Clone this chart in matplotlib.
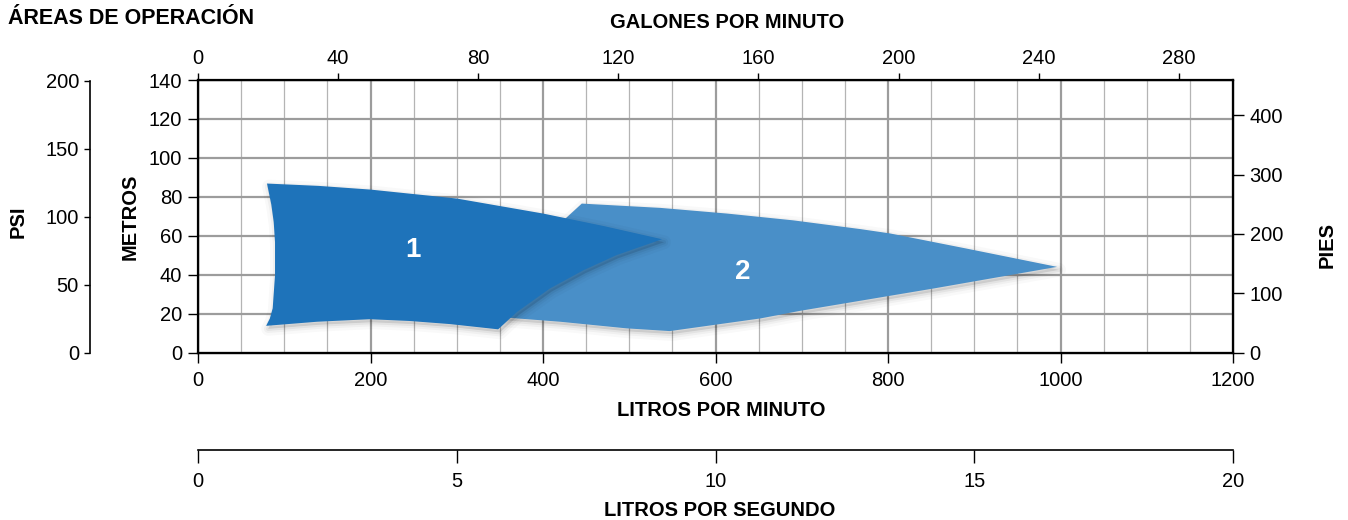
import matplotlib
matplotlib.use("Agg")
import matplotlib.pyplot as plt
import matplotlib.transforms as mtransforms
from matplotlib.patches import Polygon

plt.rcParams["font.family"] = ["Liberation Sans", "DejaVu Sans"]

# operating areas, outline in (litres per minute, metres)
area1_lpm = [80, 140, 200, 300, 400, 470, 538, 485, 447, 408, 370, 348, 292, 245, 199, 138, 79, 83.3, 86.6, 89.3, 89.3, 87.8, 85.0]
area1_m = [86.8, 85.6, 83.7, 79.1, 71.4, 65.0, 58.2, 50.0, 42.3, 32.9, 20.9, 11.9, 14.6, 16.2, 17.1, 15.8, 13.7, 17.5, 22.7, 39.7, 56.8, 67.0, 76.0]
area2_lpm = [445, 536, 613, 690, 768, 802, 891, 996, 853, 698, 652, 547, 497, 420, 370, 330, 400, 426]
area2_m = [76.5, 74.3, 71.4, 67.9, 63.4, 61.2, 53.4, 44.0, 32.9, 21.4, 17.5, 11.0, 12.4, 15.8, 17.5, 19.0, 65.0, 68.8]
area_names = ["1", "2"]
area_label_pos = [(249, 52.6), (632, 41.3)]
area_colors = ["#1e73ba", "#498fc8"]

lpm_ticks = [0, 200, 400, 600, 800, 1000, 1200]
metros_ticks = [0, 20, 40, 60, 80, 100, 120, 140]
gpm_ticks = [0, 40, 80, 120, 160, 200, 240, 280]
pies_ticks = [0, 100, 200, 300, 400]
psi_ticks = [0, 50, 100, 150, 200]
lps_ticks = [0, 5, 10, 15, 20]

W, H = 1348, 520
fig = plt.figure(figsize=(W / 100, H / 100), dpi=100)
x0, x1, ytop, ybot = 198, 1233, 80, 352.5
ax = fig.add_axes([x0 / W, 1 - ybot / H, (x1 - x0) / W, (ybot - ytop) / H])

TICK_FS = 14.5
ax.set_xlim(0, 1200)
ax.set_ylim(0, 140)
ax.set_xticks(lpm_ticks)
ax.set_xticks(range(0, 1201, 50), minor=True)
ax.set_yticks(metros_ticks)
ax.tick_params(which="major", direction="out", length=7.5, width=1.0, labelsize=TICK_FS)
ax.tick_params(axis="x", which="major", pad=6)
ax.tick_params(axis="y", which="major", pad=4)
ax.tick_params(which="minor", length=0)
ax.grid(axis="x", which="minor", color="#b4b4b4", lw=0.9)
ax.grid(axis="x", which="major", color="#9c9c9c", lw=1.6)
ax.grid(axis="y", which="major", color="#9c9c9c", lw=1.6)
ax.set_axisbelow(True)
for sp in ax.spines.values():
    sp.set_linewidth(1.6)
    sp.set_color("black")


def add_area(xs, ys, color):
    pts = list(zip(xs, ys))
    shadow_tr = mtransforms.offset_copy(ax.transData, fig=fig, x=2, y=-3, units="dots")
    ax.add_patch(Polygon(pts, closed=True, transform=shadow_tr, facecolor=(0, 0, 0, 0.10), edgecolor="none"))
    for w, a in [(10, 0.025), (6, 0.035), (3, 0.05)]:
        ax.add_patch(Polygon(pts, closed=True, transform=shadow_tr, facecolor="none",
                             edgecolor=(0, 0, 0, a), lw=w, joinstyle="round"))
    ax.add_patch(Polygon(pts, closed=True, facecolor=color, edgecolor="none"))


add_area(area2_lpm, area2_m, area_colors[1])
add_area(area1_lpm, area1_m, area_colors[0])
for name, (lx, ly) in zip(area_names, area_label_pos):
    ax.text(lx, ly, name, color="white", fontsize=20, fontweight="bold", ha="center", va="center")

# top axis: gallons per minute
axt = ax.twiny()
axt.set_xlim(0, 295.5)
axt.set_xticks(gpm_ticks)
axt.tick_params(axis="x", direction="out", length=5, width=1.0, labelsize=TICK_FS, pad=4)

# right axis: feet
axr = ax.twinx()
axr.set_ylim(0, 140 / 0.3048)
axr.set_yticks(pies_ticks)
axr.tick_params(axis="y", direction="out", length=8, width=1.0, labelsize=TICK_FS, pad=4)

# left PSI axis
axp = fig.add_axes([90 / W, 1 - ybot / H, 0.0001, (ybot - ytop) / H])
axp.set_ylim(0, 200.5)
axp.set_yticks(psi_ticks)
axp.set_xticks([])
for s in ["top", "right", "bottom"]:
    axp.spines[s].set_visible(False)
axp.spines["left"].set_bounds(0, 200)
axp.spines["left"].set_linewidth(1.2)
axp.tick_params(axis="y", direction="out", length=4, width=1.0, labelsize=TICK_FS, pad=4)
axp.patch.set_visible(False)

# bottom axis: litres per second
axs = fig.add_axes([x0 / W, 1 - 450 / H, (x1 - x0) / W, 0.0001])
axs.set_xlim(0, 20)
axs.set_xticks(lps_ticks)
axs.set_yticks([])
for s in ["top", "right", "left"]:
    axs.spines[s].set_visible(False)
axs.spines["bottom"].set_linewidth(1.2)
axs.tick_params(axis="x", direction="out", length=9, width=1.0, labelsize=TICK_FS, pad=7)
axs.patch.set_visible(False)

lab = dict(fontsize=14.5, fontweight="bold", ha="center", va="center")
fig.text(8 / W, 1 - 18 / H, "ÁREAS DE OPERACIÓN", fontsize=15.5, fontweight="bold", ha="left", va="center")
fig.text(727 / W, 1 - 22 / H, "GALONES POR MINUTO", **lab)
fig.text(721 / W, 1 - 410 / H, "LITROS POR MINUTO", **lab)
fig.text(720 / W, 1 - 510 / H, "LITROS POR SEGUNDO", **lab)
fig.text(130 / W, 1 - 217 / H, "METROS", rotation=90, **lab)
fig.text(18 / W, 1 - 222 / H, "PSI", rotation=90, **lab)
fig.text(1327 / W, 1 - 245 / H, "PIES", rotation=90, **lab)

fig.savefig("out.png", dpi=100)
